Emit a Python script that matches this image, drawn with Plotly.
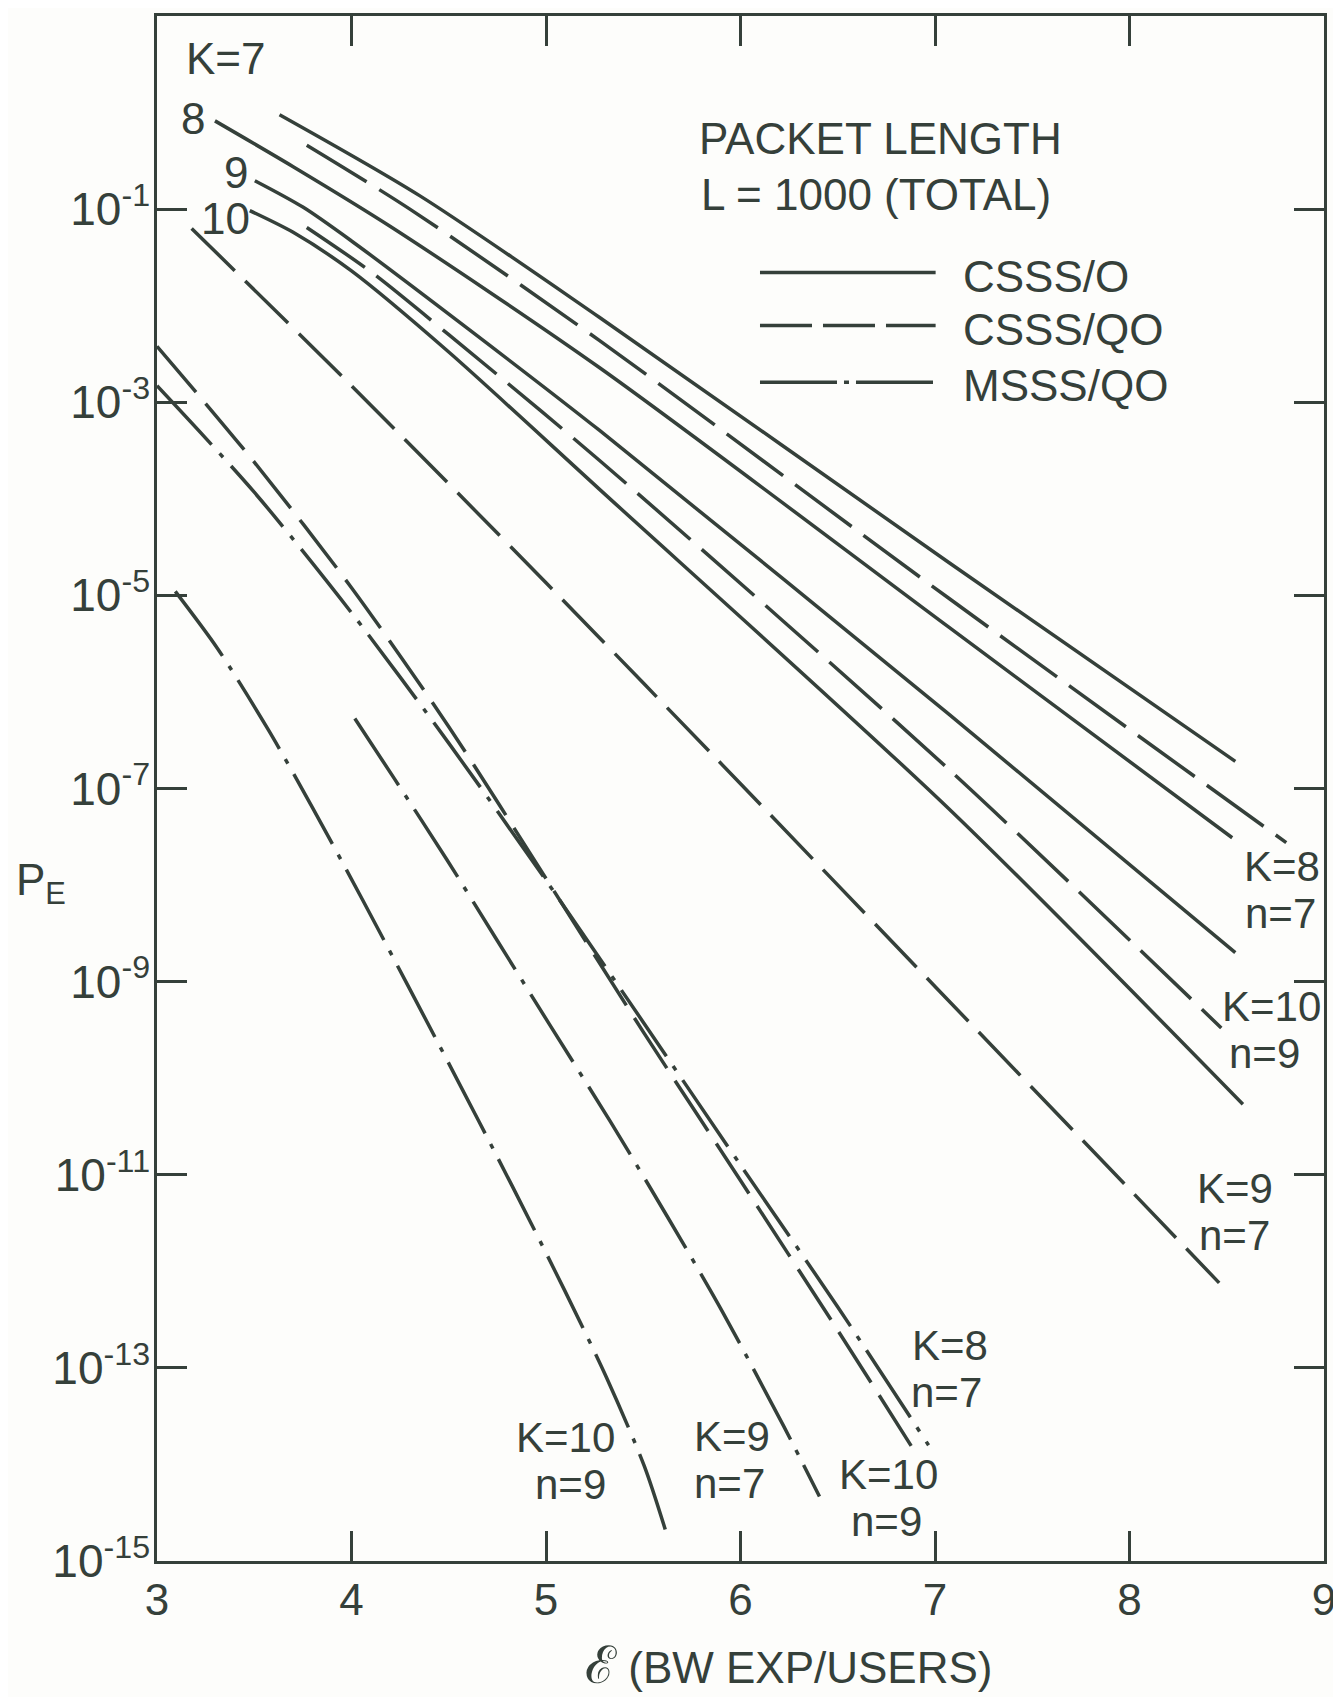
import plotly.graph_objects as go

# ---------------- data ----------------
# CSSS/O (solid)
E_K7_O = [3.63, 4.35, 5.274, 7.071, 8.544]
P_K7_O = [9.5e-1, 1.38e-1, 7.59e-3, 2.19e-5, 1.91e-7]

E_K8_O = [3.298, 3.7, 4.2, 5.274, 7.071, 8.528]
P_K8_O = [8.2e-1, 2.75e-1, 6.61e-2, 2.29e-3, 4.68e-6, 3.09e-8]

E_K9_O = [3.503, 3.75, 4.0, 4.6, 5.274, 7.071, 8.544]
P_K9_O = [1.97e-1, 1.05e-1, 4.68e-2, 5.75e-3, 5.13e-4, 5.89e-7, 2.0e-9]

E_K10_O = [3.477, 3.7, 4.0, 4.5, 5.274, 7.071, 8.583]
P_K10_O = [9.64e-2, 5.75e-2, 2.29e-2, 3.31e-3, 1.26e-4, 6.17e-8, 5.37e-11]

# CSSS/QO (dashed)
E_K8n7_QO = [3.77, 4.3, 5.274, 7.071, 8.806]
P_K8n7_QO = [4.6e-1, 1.0e-1, 4.37e-3, 9.33e-6, 2.75e-8]

E_K10n9_QO = [3.77, 4.1, 4.5, 5.274, 7.071, 8.472]
P_K10n9_QO = [6.46e-2, 2.24e-2, 5.01e-3, 2.51e-4, 1.58e-7, 3.31e-10]

E_K9n7_QO = [3.178, 4.0, 5.0, 6.0, 7.0, 8.0, 8.461]
P_K9n7_QO = [6.31e-2, 1.48e-3, 1.35e-5, 1.12e-7, 8.91e-10, 7.08e-12, 7.59e-13]

E_K10n9_QO_b = [3.0, 3.5, 4.0, 4.5, 5.0, 5.5, 6.0, 6.5, 6.9]
P_K10n9_QO_b = [3.80e-3, 2.40e-4, 1.20e-5, 4.37e-7, 1.17e-8, 3.02e-10, 8.71e-12, 2.45e-13, 1.32e-14]

# MSSS/QO (dash-dot)
E_K8n7_M = [3.0, 3.5, 4.0, 4.5, 5.0, 5.5, 6.0, 6.5, 6.967]
P_K8n7_M = [1.48e-3, 1.17e-4, 6.61e-6, 2.95e-7, 1.12e-8, 3.80e-10, 1.26e-11, 4.27e-13, 1.58e-14]

E_K9n7_M = [4.017, 4.222, 4.489, 4.750, 5.017, 5.328, 5.622, 5.906, 6.222, 6.406]
P_K9n7_M = [5.31e-7, 1.25e-7, 1.85e-8, 2.65e-9, 3.63e-10, 3.63e-11, 3.74e-12, 3.85e-13, 2.49e-14, 4.65e-15]

E_K10n9_M = [3.094, 3.311, 3.572, 3.800, 4.056, 4.506, 4.822, 5.094, 5.311, 5.506, 5.617]
P_K10n9_M = [1.10e-5, 2.82e-6, 4.07e-7, 6.31e-8, 7.08e-9, 1.35e-10, 7.94e-12, 6.46e-13, 7.94e-14, 9.55e-15, 2.0e-15]

X_TICKS = [3, 4, 5, 6, 7, 8, 9]
Y_TICK_EXP = [-1, -3, -5, -7, -9, -11, -13, -15]

LEGEND_ITEMS = ["CSSS/O", "CSSS/QO", "MSSS/QO"]

# ---------------- styling ----------------
INK = "#35403a"
BG = "#fdfdfb"
FONT = "Liberation Sans, Arial, sans-serif"
FS = 44
LW = 3.5

SOLID = "solid"
DASH = "70px,15px"
DASH_B = "60px,15px"
DASHDOT = "80px,12px,5px,12px"

series = [
    (E_K7_O, P_K7_O, SOLID), (E_K8_O, P_K8_O, SOLID), (E_K9_O, P_K9_O, SOLID),
    (E_K10_O, P_K10_O, SOLID),
    (E_K8n7_QO, P_K8n7_QO, DASH), (E_K10n9_QO, P_K10n9_QO, DASH),
    (E_K9n7_QO, P_K9n7_QO, DASH_B), (E_K10n9_QO_b, P_K10n9_QO_b, DASH_B),
    (E_K8n7_M, P_K8n7_M, DASHDOT), (E_K9n7_M, P_K9n7_M, DASHDOT),
    (E_K10n9_M, P_K10n9_M, DASHDOT),
]

fig = go.Figure()
for xs, ys, dash in series:
    fig.add_trace(go.Scatter(
        x=xs, y=ys, mode="lines",
        line=dict(color=INK, width=LW, dash=dash, shape="spline", smoothing=0.8),
        showlegend=False, hoverinfo="skip"))

# the page body adds an 8px offset; the figure is sized so that it still fills 1341x1697
fig.update_layout(
    width=1333, height=1689,
    margin=dict(l=149, r=15, t=5, b=136),
    paper_bgcolor=BG, plot_bgcolor=BG,
    font=dict(family=FONT, size=FS, color=INK),
    showlegend=False,
)

axis_common = dict(
    showline=True, linewidth=2.5, linecolor=INK, mirror="ticks",
    ticks="inside", ticklen=30, tickwidth=2.5, tickcolor=INK,
    showgrid=False, zeroline=False,
)

fig.update_xaxes(range=[3, 9], tickvals=X_TICKS, ticktext=[str(v) for v in X_TICKS],
                 ticklabelstandoff=-2, tickfont=dict(family=FONT, size=FS, color=INK),
                 **axis_common)
fig.update_yaxes(type="log", range=[-15, 1],
                 tickvals=[10.0 ** e for e in Y_TICK_EXP],
                 ticktext=[f"10<sup>{e}</sup>" for e in Y_TICK_EXP],
                 ticklabelstandoff=-5, tickfont=dict(family=FONT, size=46, color=INK),
                 **axis_common)

def note(text, x, y, xanchor="center", size=FS):
    fig.add_annotation(text=text, x=x, y=y, xref="paper", yref="paper",
                       xanchor=xanchor, yanchor="middle", showarrow=False,
                       font=dict(family=FONT, size=size, color=INK))

# curve labels (paper coordinates of the plot area)
single_labels = [
    ("K=7", 0.0590, 0.9723), ("8", 0.0308, 0.9334), ("9", 0.0675, 0.8986), ("10", 0.0590, 0.8689),
]
for t, x, y in single_labels:
    note(t, x, y)

HALF = 0.0152  # half of the line spacing between the two rows of a pair label
pair_labels = [
    ("K=8", "n=7", 0.9642, 0.9623, 0.4345),
    ("K=10", "n=9", 0.9547, 0.9487, 0.3437),
    ("K=9", "n=7", 0.9238, 0.9230, 0.2261),
    ("K=10", "n=9", 0.3498, 0.3542, 0.0649),
    ("K=9", "n=7", 0.4927, 0.4910, 0.0652),
    ("K=10", "n=9", 0.6270, 0.6253, 0.0407),
    ("K=8", "n=7", 0.6792, 0.6767, 0.1244),
]
for top, bottom, xt, xb, ymid in pair_labels:
    note(top, xt, ymid + HALF, size=42)
    note(bottom, xb, ymid - HALF, size=42)

# header and legend
note("PACKET LENGTH", 0.4628, 0.9205, "left")
note("L = 1000 (TOTAL)", 0.4645, 0.8844, "left")

leg_y = [0.834, 0.7997, 0.7629]
leg_dash = [SOLID, "52px,11px", "77px,7px,5px,7px"]
leg_text_y = [0.8314, 0.7972, 0.761]
for name, yl, dsh, yt in zip(LEGEND_ITEMS, leg_y, leg_dash, leg_text_y):
    fig.add_shape(type="line", xref="paper", yref="paper", x0=0.5167, x1=0.6672,
                  y0=yl, y1=yl, line=dict(color=INK, width=LW, dash=dsh))
    note(name, 0.6886, yt, "left")

# axis titles
note("P<sub>E</sub>", -0.0992, 0.4386, "center")
note("<span style='font-size:52px'>ℰ</span> (BW EXP/USERS)", 0.5415, -0.0672, "center")

fig.write_html("out.html")
